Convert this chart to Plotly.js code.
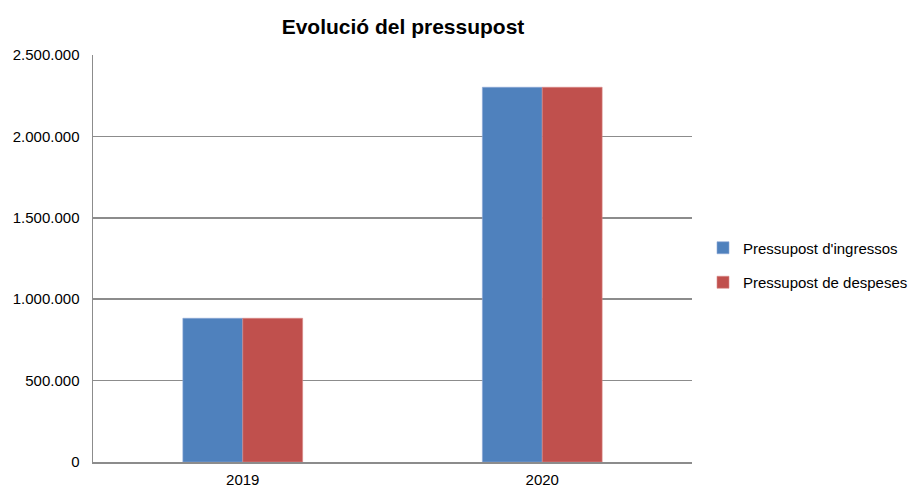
<!DOCTYPE html>
<html>
<head>
<meta charset="utf-8">
<script src="https://cdn.plot.ly/plotly-3.0.1.min.js"></script>
<style>html,body{margin:0;padding:0;background:#fff;}#chart{width:917px;height:488px;}</style>
</head>
<body>
<div id="chart"></div>
<script>
const categories = ['2019', '2020'];
const seriesNames = ["Pressupost d'ingressos", 'Pressupost de despeses'];
const ingressos = [883000, 2302000];
const despeses = [883000, 2302000];
const yTicks = [0, 500000, 1000000, 1500000, 2000000, 2500000];

const colors = ['#4F81BD', '#C0504D'];
const lineColors = ['#8EAAD6', '#D98C8A'];

const traces = [ingressos, despeses].map((vals, i) => ({
  type: 'bar',
  name: seriesNames[i],
  x: categories,
  y: vals,
  legendgroup: 'g' + i,
  marker: {color: colors[i], line: {color: lineColors[i], width: 0.6}},
  hoverinfo: 'x+y+name'
}));

const layout = {
  width: 917, height: 488,
  paper_bgcolor: '#fff', plot_bgcolor: '#fff',
  margin: {l: 93, r: 225, t: 55, b: 26, pad: 0},
  separators: ',.',
  font: {family: 'Arial, "Liberation Sans", sans-serif', size: 15, color: '#000'},
  title: {text: '<b>Evolució del pressupost</b>', font: {size: 21, color: '#000'},
          x: 403 / 917, xref: 'container', xanchor: 'center', y: 0.945, yref: 'container', yanchor: 'middle'},
  barmode: 'group',
  bargap: 0.6,
  bargroupgap: 0,
  xaxis: {
    type: 'category', showgrid: false, zeroline: false,
    showline: true, linecolor: '#8c8c8c', linewidth: 1.5,
    ticks: '', ticklabelstandoff: 3,
    tickfont: {size: 15, color: '#000'}
  },
  yaxis: {
    range: [0, 2500000], tickvals: yTicks, tickformat: ',d',
    showgrid: true, gridcolor: '#8c8c8c', gridwidth: 1.5,
    zeroline: false, showline: true, linecolor: '#8c8c8c', linewidth: 1.5,
    ticks: '', ticklabelstandoff: 9,
    tickfont: {size: 15, color: '#000'}
  },
  showlegend: true,
  legend: {
    xref: 'container', x: 703 / 917, xanchor: 'left', y: 0.484, yanchor: 'middle',
    font: {size: 15, color: '#000'},
    traceorder: 'grouped', tracegroupgap: 12,
    bgcolor: 'rgba(0,0,0,0)', borderwidth: 0
  }
};

Plotly.newPlot('chart', traces, layout, {displayModeBar: false, staticPlot: true});
</script>
</body>
</html>
